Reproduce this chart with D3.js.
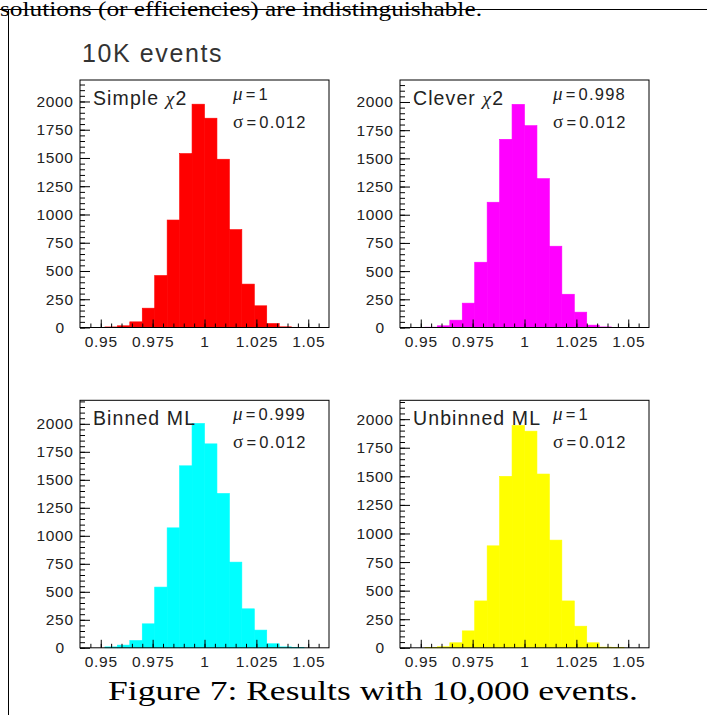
<!DOCTYPE html>
<html>
<head>
<meta charset="utf-8">
<script src="https://cdn.jsdelivr.net/npm/d3@7"></script>
<style>
  body { margin: 0; background: #fff; }
  svg text { font-family: "Liberation Sans", Arial, sans-serif; fill: #222; }
  .serif { font-family: "Liberation Serif", "DejaVu Serif", serif; }
</style>
</head>
<body>
<svg width="707" height="715"></svg>
<script>
const svg = d3.select('svg');

// histogram bins (20 bins of 0.006 from 0.94 to 1.06)
const binEdges = [0.94, 0.946, 0.952, 0.958, 0.964, 0.97, 0.976, 0.982, 0.988, 0.994,
  1.0, 1.006, 1.012, 1.018, 1.024, 1.03, 1.036, 1.042, 1.048, 1.054, 1.06];

const simpleChi2 = [0, 0, 5, 15, 50, 171, 460, 951, 1539, 1976, 1852, 1489, 866, 384, 192, 35, 6, 2, 0, 0];
const cleverChi2 = [0, 0, 3, 15, 65, 216, 579, 1111, 1669, 1979, 1790, 1320, 721, 295, 136, 21, 5, 1, 0, 0];
const binnedML   = [0, 0, 8, 24, 65, 214, 542, 1071, 1625, 2003, 1821, 1378, 765, 348, 158, 36, 8, 2, 0, 0];
const unbinnedML = [0, 0, 3, 9, 44, 148, 410, 892, 1500, 1945, 1895, 1520, 942, 410, 189, 44, 6, 1, 0, 0];

const panelNames  = ['Simple χ2', 'Clever χ2', 'Binned ML', 'Unbinned ML'];
const panelSeries = [simpleChi2, cleverChi2, binnedML, unbinnedML];
const panelMu     = ['1', '0.998', '0.999', '1'];
const panelSigma  = ['0.012', '0.012', '0.012', '0.012'];
const panelColors = ['#ff0000', '#ff00ff', '#00ffff', '#ffff00'];
const panelYMax   = [2190, 2195, 2210, 2165];

const xTickValues = [0.95, 0.975, 1, 1.025, 1.05];
const xMinorTicks = [0.945, 0.95, 0.955, 0.96, 0.965, 0.97, 0.975, 0.98, 0.985, 0.99, 0.995, 1,
  1.005, 1.01, 1.015, 1.02, 1.025, 1.03, 1.035, 1.04, 1.045, 1.05, 1.055];
const yTickValues = [0, 250, 500, 750, 1000, 1250, 1500, 1750, 2000];

// page furniture
svg.append('text')
  .attr('class', 'serif')
  .attr('x', 0).attr('y', 16)
  .attr('textLength', 482).attr('lengthAdjust', 'spacingAndGlyphs')
  .style('font-size', '22px')
  .style('fill', '#000')
  .text('solutions (or efficiencies) are indistinguishable.');

svg.append('line')
  .attr('x1', 0).attr('x2', 707).attr('y1', 9.5).attr('y2', 9.5)
  .attr('stroke', '#000');
svg.append('line')
  .attr('x1', 8.5).attr('x2', 8.5).attr('y1', 9).attr('y2', 715)
  .attr('stroke', '#000');

svg.append('text')
  .attr('x', 82).attr('y', 62)
  .style('font-size', '25px')
  .style('letter-spacing', '1.6px')
  .style('fill', '#333')
  .text('10K events');

svg.append('text')
  .attr('class', 'serif')
  .attr('x', 108).attr('y', 700)
  .attr('textLength', 530).attr('lengthAdjust', 'spacingAndGlyphs')
  .style('font-size', '28px')
  .style('fill', '#000')
  .text('Figure 7: Results with 10,000 events.');

// panel layout
const frameW = 249;
const frameH = 247.5;
const cols = [80, 400];
const rows = [80, 400.3];

panelSeries.forEach((values, i) => {
  const g = svg.append('g')
    .attr('transform', `translate(${cols[i % 2]}, ${rows[Math.floor(i / 2)]})`);

  const xScale = d3.scaleLinear()
    .domain([binEdges[0], binEdges[binEdges.length - 1]])
    .range([0, frameW]);

  const yScale = d3.scaleLinear()
    .domain([0, panelYMax[i]])
    .range([frameH, 0]);

  g.selectAll('rect.bar').data(values)
    .enter().append('rect')
      .attr('class', 'bar')
      .attr('x', (d, j) => xScale(binEdges[j]))
      .attr('width', (d, j) => xScale(binEdges[j + 1]) - xScale(binEdges[j]))
      .attr('y', d => yScale(d))
      .attr('height', d => yScale(0) - yScale(d))
      .attr('fill', panelColors[i])
      .attr('stroke', panelColors[i])
      .attr('stroke-width', 0.6);

  // minor ticks
  g.append('g')
    .attr('transform', `translate(0, ${frameH})`)
    .call(d3.axisBottom(xScale).tickValues(xMinorTicks).tickSize(-4).tickFormat(''))
    .call(a => a.select('.domain').remove());

  g.append('g')
    .call(d3.axisLeft(yScale).tickValues(d3.range(0, panelYMax[i], 50)).tickSize(-5).tickFormat(''))
    .call(a => a.select('.domain').remove());

  // major ticks + labels
  const xAxisG = g.append('g')
    .attr('transform', `translate(0, ${frameH})`)
    .call(d3.axisBottom(xScale).tickValues(xTickValues).tickSize(-8).tickPadding(8)
      .tickFormat(d => String(d)));
  xAxisG.select('.domain').remove();

  const yAxisG = g.append('g')
    .call(d3.axisLeft(yScale).tickValues(yTickValues).tickSize(-10).tickPadding(7)
      .tickFormat(d3.format('d')));
  yAxisG.select('.domain').remove();
  yAxisG.selectAll('.tick').filter(d => d === 0).select('text').attr('x', -16);

  g.selectAll('.tick line').attr('stroke', '#000');
  g.selectAll('.tick text')
    .style('font-size', '15.5px')
    .style('letter-spacing', '0.7px')
    .style('font-family', '"Liberation Sans", Arial, sans-serif')
    .attr('fill', '#222');
  yAxisG.selectAll('.tick text').attr('dx', '0.7px');

  // frame
  g.append('rect')
    .attr('width', frameW).attr('height', frameH)
    .attr('fill', 'none').attr('stroke', '#000');

  // labels
  const label = g.append('text')
    .attr('x', 13).attr('y', 25)
    .style('font-size', '19.5px')
    .style('letter-spacing', '1.1px')
    .style('fill', '#222');
  const parts = panelNames[i].split('χ');
  label.append('tspan').text(parts[0]);
  if (parts.length > 1) {
    label.append('tspan').attr('class', 'serif').style('font-style', 'italic').text('χ');
    label.append('tspan').text(parts[1]);
  }

  const mu = g.append('text')
    .attr('x', 153).attr('y', 20)
    .style('font-size', '16.5px')
    .style('letter-spacing', '1.2px');
  mu.append('tspan').attr('class', 'serif').style('font-style', 'italic').style('font-size', '19px').text('μ');
  mu.append('tspan').attr('dx', 2).text('=');
  mu.append('tspan').attr('dx', 2).text(panelMu[i]);

  const sigma = g.append('text')
    .attr('x', 153).attr('y', 48)
    .style('font-size', '16.5px')
    .style('letter-spacing', '1.2px');
  sigma.append('tspan').attr('class', 'serif').style('font-size', '19px').text('σ');
  sigma.append('tspan').attr('dx', 2).text('=');
  sigma.append('tspan').attr('dx', 2).text(panelSigma[i]);
});
</script>
</body>
</html>
